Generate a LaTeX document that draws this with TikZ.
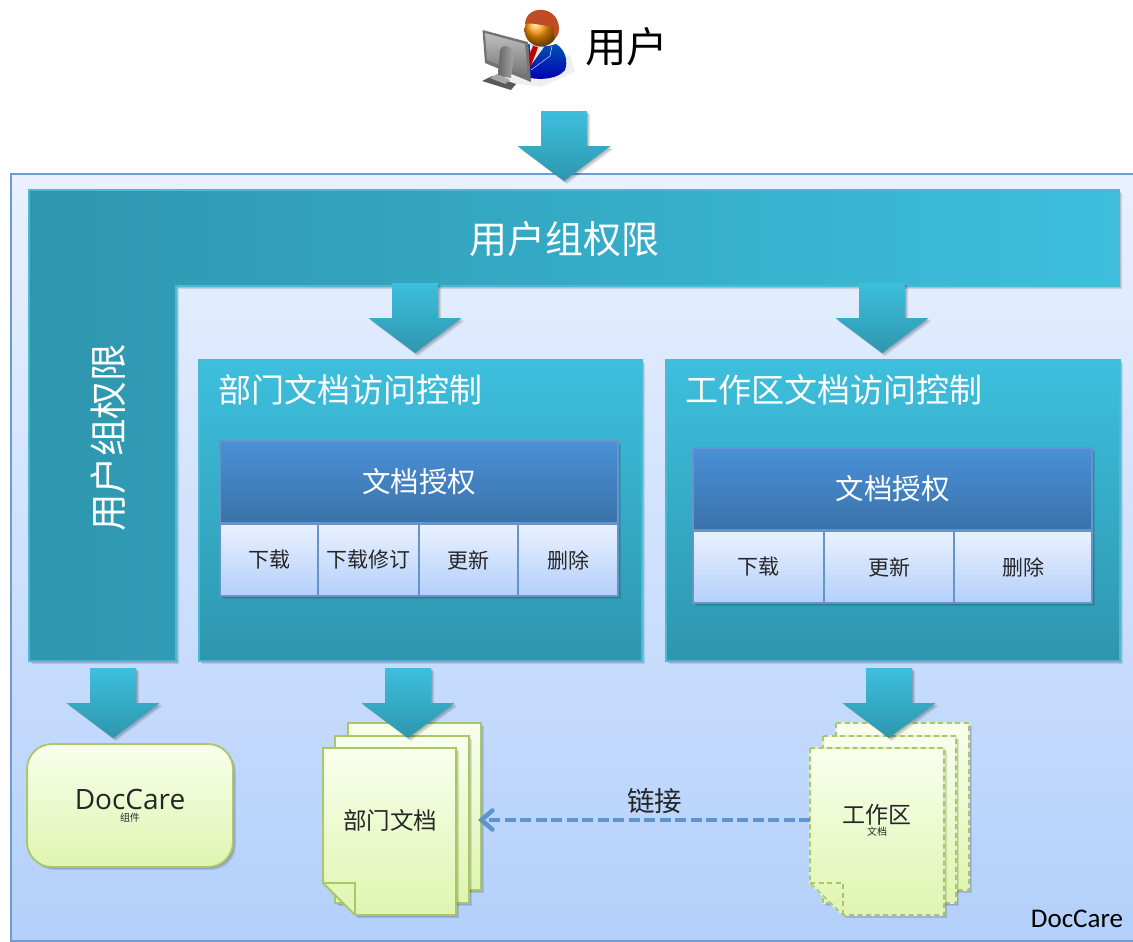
\documentclass[tikz,border=0pt]{standalone}
\usepackage{fontspec}
\setmainfont{Noto Sans CJK SC}
\newfontfamily\carl{Carlito}
\newfontfamily\dej{Open Sans}
\usetikzlibrary{shadows,arrows.meta}
\definecolor{tealTop}{HTML}{3DBFDD}
\definecolor{tealBot}{HTML}{2E96AE}
\definecolor{tealEdge}{HTML}{4BB9D3}
\definecolor{frameEdge}{HTML}{6F9BD0}
\definecolor{paleTop}{HTML}{EAF1FF}
\definecolor{paleBot}{HTML}{B3D0FB}
\definecolor{hdrTop}{HTML}{4A90D6}
\definecolor{hdrBot}{HTML}{3A72AA}
\definecolor{cellEdge}{HTML}{6494C9}
\definecolor{docTop}{HTML}{F8FFEC}
\definecolor{docBot}{HTML}{DFF5B0}
\definecolor{docEdge}{HTML}{A9C764}
\definecolor{linkBlue}{HTML}{5F93CB}
\newcommand\fs[1]{\fontsize{#1pt}{60pt}\selectfont}
\newcommand\fsl[2]{\fontsize{#1pt}{#2pt}\selectfont}
\tikzset{
  x=1pt,y=-1pt,
  softshadow/.style={
    general shadow={shadow xshift=1pt,shadow yshift=-1pt,fill=black,opacity=.10},
    general shadow={shadow xshift=2pt,shadow yshift=-2pt,fill=black,opacity=.10},
    general shadow={shadow xshift=3pt,shadow yshift=-3pt,fill=black,opacity=.10}},
  bx/.style={inner sep=0pt,outer sep=0pt,align=center},
  outerframe/.style={draw=frameEdge,line width=1.2pt,top color=paleTop,bottom color=paleBot},
  lband/.style={softshadow,draw=tealEdge,line width=1.5pt,left color=tealBot,right color=tealTop},
  panel/.style={bx,softshadow,draw=tealEdge,line width=1.5pt,top color=tealTop,bottom color=tealBot},
  hdr/.style={bx,softshadow,draw=cellEdge,line width=1.5pt,top color=hdrTop,bottom color=hdrBot,text=white},
  cell/.style={bx,softshadow,draw=cellEdge,line width=1.5pt,top color=paleTop,bottom color=paleBot,text=black!85},
  blockarrow/.style={softshadow,top color=tealTop,bottom color=tealBot,draw=none},
  comp/.style={bx,softshadow,draw=docEdge,line width=1.8pt,rounded corners=25pt,top color=docTop,bottom color=docBot,text=black!85},
  sheet/.style={softshadow,draw=docEdge,line width=1.8pt,top color=docTop,bottom color=docBot},
  dsheet/.style={softshadow,draw=white!70!docEdge,line width=2.2pt,top color=docTop,bottom color=docBot},
  dline/.style={draw=docEdge,line width=1.6pt,dash pattern=on 5pt off 3.5pt},
  txt/.style={inner sep=0pt,outer sep=0pt,align=center},
}
% \blockdown{center x}{top y}
\newcommand\blockdown[2]{%
  \path[blockarrow] (#1-23,#2) -- (#1+23,#2) -- (#1+23,#2+35) -- (#1+46.5,#2+35)
    -- (#1,#2+70) -- (#1-46.5,#2+35) -- (#1-23,#2+35) -- cycle;}
\begin{document}
\begin{tikzpicture}
\useasboundingbox (0,0) rectangle (1133,942);
\fill[white] (0,0) rectangle (1133,942);

% user icon
\begin{scope}
 \fill[black!12,opacity=.5] (490,80) -- (540,87) -- (575,72) -- (570,55) -- cycle;
 % body
 \shade[top color=blue!55!cyan!70!black,bottom color=blue!70!black]
   (528,44) .. controls (535,46) and (545,48) .. (556,44)
   .. controls (566,50) and (568,62) .. (565,70)
   .. controls (558,79) and (542,80) .. (530,78) -- cycle;
 \fill[white!92!black] (530,45) -- (544,47) -- (531,65) -- cycle;
 \fill[red!75!black] (533,46) -- (538,47) -- (536,53) -- (530,68) -- (528,58) -- cycle;
 \draw[blue!25!white,line width=.6pt] (552,46) -- (550,56) -- (531,70);
 % head
 \shade[ball color=orange!85!yellow] (541,30) circle[radius=16.5];
 \begin{scope}
  \fill[brown!65!red!90!black] (525,24) .. controls (526,4) and (558,5) .. (559,28)
     .. controls (559,36) and (556,38) .. (554,37) -- (553,26)
     .. controls (545,27) and (534,22) .. (525,24) -- cycle;
 \end{scope}
 % monitor
 \fill[black!55] (482.5,30) -- (528,42) -- (531,82) -- (485,63) -- cycle;
 \shade[top color=black!25,bottom color=black!55] (485,33) -- (525,44) -- (528,77) -- (487,60) -- cycle;
 \shade[left color=black!60,right color=black!35] (500,50) .. controls (503,43) and (513,46) .. (514,56) -- (511,78) -- (498,76) -- cycle;
 \fill[black!65] (482,81) -- (492,76) -- (516,84) -- (511,90) -- cycle;
 \fill[black!35] (490,78) -- (497,74) -- (510,80) -- (505,84) -- cycle;
\end{scope}
\node[txt,anchor=center] (usertext) at (626.5,47) {\fs{41.5}用户};

% outer frame
\path[outerframe] (11,174) rectangle (1140,941);
\node[txt,anchor=east] (brand) at (1123,919) {\carl\fs{27}DocCare};

% top arrow
\blockdown{564}{111}

% L band
\path[lband] (29,190) -- (1119,190) -- (1119,286) -- (176,286) -- (176,661) -- (29,661) -- cycle;
\node[txt,text=white] (bandh) at (564,239) {\fs{38}用户组权限};
\node[txt,text=white,rotate=90] (bandv) at (108,438) {\fs{37.5}用户组权限};

\blockdown{415}{283}
\blockdown{882}{283}

% panels
\node[panel,minimum width=443pt,minimum height=301pt] (deptpanel) at (420.5,510.5) {};
\node[panel,minimum width=454pt,minimum height=301pt] (workpanel) at (893,510.5) {};
\node[txt,anchor=west,text=white] (depttitle) at (218,390) {\fs{33}部门文档访问控制};
\node[txt,anchor=west,text=white] (worktitle) at (685,390) {\fs{33}工作区文档访问控制};

% dept auth
\node[hdr,minimum width=398pt,minimum height=82pt] (h1) at (419,482) {\fs{28.5}文档授权};
\node[cell,minimum width=98pt,minimum height=72pt] (c11) at (269,560) {\fs{21}下载};
\node[cell,minimum width=101pt,minimum height=72pt] (c12) at (368.5,560) {\fs{21}下载修订};
\node[cell,minimum width=99pt,minimum height=72pt] (c13) at (468.5,560) {\fs{21}更新};
\node[cell,minimum width=100pt,minimum height=72pt] (c14) at (568,560) {\fs{21}删除};

% workspace auth
\node[hdr,minimum width=399pt,minimum height=82pt] (h2) at (892.5,489) {\fs{28.5}文档授权};
\node[cell,minimum width=131pt,minimum height=72pt] (c21) at (758.5,567) {\fs{21}下载};
\node[cell,minimum width=130pt,minimum height=72pt] (c22) at (889,567) {\fs{21}更新};
\node[cell,minimum width=138pt,minimum height=72pt] (c23) at (1023,567) {\fs{21}删除};

% component
\node[comp,minimum width=206pt,minimum height=123pt] (comp) at (130,805.5)
   {\fsl{28}{34}{\dej DocCare}\\组件};

% dept docs
\path[sheet] (348,723) rectangle (481,890);
\path[sheet] (335,736) rectangle (469,903);
\path[sheet] (323,748) -- (456,748) -- (456,915) -- (355,915) -- (323,883) -- cycle;
\draw[docEdge,line width=1.8pt] (323,883) -- (355,883) -- (355,915);
\node[txt,text=black!85] (deptdoc) at (390,820) {\fs{23.5}部门文档};
\coordinate (deptedge) at (478,820);

% workspace docs
\path[dsheet] (836,723) rectangle (969,890);
\path[dline] (836,723) rectangle (969,890);
\path[dsheet] (823,736) rectangle (956,903);
\path[dline] (823,736) rectangle (956,903);
\path[dsheet] (810,748) -- (944,748) -- (944,915) -- (843,915) -- (810,883) -- cycle;
\path[dline] (810,748) -- (944,748) -- (944,915) -- (843,915) -- (810,883) -- cycle;
\path[dline] (810,883) -- (843,883) -- (843,915);
\node[txt,text=black!85] (workdoc) at (877,820) {\fsl{23}{29}工作区\\文档};
\coordinate (workedge) at (810,820);

\blockdown{113}{668}
\blockdown{408}{668}
\blockdown{889}{668}

% link
\draw[linkBlue,line width=4.5pt,dash pattern=on 11pt off 4.5pt,-{Straight Barb[length=11pt,width=19pt,line width=4.5pt,line cap=round]}] (workedge) -- (deptedge);
\node[txt,text=black!85] (linklabel) at (654.5,801) {\fs{27.5}链接};
\end{tikzpicture}
\end{document}
